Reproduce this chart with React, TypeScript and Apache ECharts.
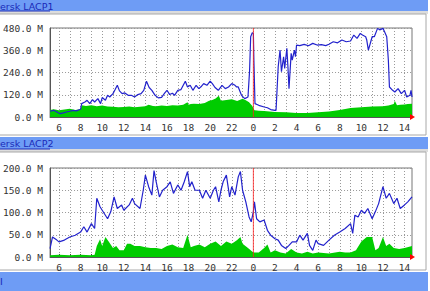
import React, { useEffect, useRef } from "react";
import * as echarts from "echarts";

const xStart = 5.17;
const xEnd = 38.69;
const hourTicks = [6, 7, 8, 9, 10, 11, 12, 13, 14, 15, 16, 17, 18, 19, 20, 21, 22, 23, 24, 25, 26, 27, 28, 29, 30, 31, 32, 33, 34, 35, 36, 37, 38];
const hourLabels = [6, 8, 10, 12, 14, 16, 18, 20, 22, 24, 26, 28, 30, 32, 34, 36, 38];
const midnight = 24;

const panel1Title = "ersk LACP1";
const panel2Title = "ersk LACP2";
const footerText = "I";

const lacp1YTicks = [0, 120, 240, 360, 480];
const lacp2YTicks = [0, 50, 100, 150, 200];

// [hour, value in M]
const lacp1In = [
  [5.17, 38], [5.5, 42], [6.0, 36], [6.5, 40], [7.0, 44], [7.5, 38], [8.0, 42], [8.1, 63], [8.5, 60], [9.0, 63],
  [9.5, 58], [10.0, 62], [10.5, 56], [11.0, 55], [11.5, 52], [12.0, 54], [12.5, 56], [13.0, 52], [13.5, 55], [14.0, 58],
  [14.3, 66], [14.7, 60], [15.0, 58], [15.5, 62], [16.0, 60], [16.5, 64], [17.0, 62], [17.5, 66], [17.9, 80], [18.0, 66],
  [18.2, 70], [18.5, 72], [19.0, 70], [19.5, 76], [19.9, 88], [20.2, 92], [20.5, 100], [20.8, 115], [21.0, 88], [21.5, 92],
  [22.0, 96], [22.5, 86], [23.0, 98], [23.3, 90], [23.6, 80], [23.9, 60], [24.1, 36], [24.5, 34], [25.0, 32], [25.5, 30],
  [26.0, 27], [27.0, 25], [28.0, 22], [29.0, 22], [30.0, 25], [31.0, 30], [32.0, 38], [33.0, 48], [34.0, 52], [35.0, 56],
  [36.0, 58], [36.5, 62], [37.0, 70], [37.1, 88], [37.3, 64], [37.6, 66], [38.0, 68], [38.3, 70], [38.69, 72],
];

const lacp1Out = [
  [5.17, 31], [5.5, 36], [5.8, 27], [6.1, 18], [6.4, 22], [6.7, 27], [7.0, 31], [7.3, 36], [7.6, 33], [8.0, 42],
  [8.1, 72], [8.4, 81], [8.6, 90], [8.85, 72], [9.1, 94], [9.3, 81], [9.6, 99], [9.85, 72], [10.0, 105], [10.3, 90],
  [10.5, 117], [10.7, 108], [11.0, 126], [11.2, 148], [11.4, 171], [11.6, 141], [11.85, 126], [12.1, 130], [12.4, 117], [12.7, 117],
  [13.0, 108], [13.3, 121], [13.6, 126], [13.85, 144], [14.1, 193], [14.35, 159], [14.6, 144], [14.9, 117], [15.2, 103], [15.5, 106],
  [15.8, 130], [16.0, 144], [16.25, 121], [16.5, 128], [16.7, 117], [17.0, 144], [17.3, 148], [17.7, 193], [17.9, 162], [18.15, 171],
  [18.4, 144], [18.7, 171], [18.95, 153], [19.2, 166], [19.4, 180], [19.7, 171], [20.0, 193], [20.2, 180], [20.45, 159], [20.75, 144],
  [21.1, 171], [21.4, 153], [21.7, 162], [22.0, 180], [22.3, 171], [22.45, 162], [22.6, 162], [22.9, 117], [23.2, 99], [23.5, 108],
  [23.65, 250], [23.75, 433], [23.9, 455], [24.0, 450], [24.05, 300], [24.15, 72], [24.5, 63], [25.0, 54], [25.3, 50], [25.6, 40],
  [26.0, 36], [26.1, 36], [26.3, 271], [26.47, 361], [26.6, 244], [26.8, 325], [26.9, 262], [27.1, 370], [27.2, 271], [27.3, 153],
  [27.5, 343], [27.6, 307], [27.8, 361], [27.9, 325], [28.0, 388], [28.3, 385], [28.7, 392], [29.1, 384], [29.5, 397], [29.9, 388],
  [30.3, 390], [30.7, 385], [31.0, 392], [31.4, 406], [31.8, 400], [32.2, 415], [32.6, 406], [33.0, 410], [33.3, 442], [33.6, 424],
  [33.9, 451], [34.1, 442], [34.4, 433], [34.5, 415], [34.65, 361], [35.0, 433], [35.2, 433], [35.5, 478], [35.7, 470], [36.0, 478],
  [36.15, 460], [36.35, 433], [36.5, 307], [36.6, 162], [36.9, 144], [37.1, 135], [37.4, 153], [37.7, 126], [38.0, 144], [38.2, 108],
  [38.5, 117], [38.6, 144], [38.69, 108],
];

const lacp2In = [
  [5.17, 4], [6, 5], [7, 4], [8, 5], [9, 4], [9.3, 5], [9.5, 25], [9.8, 40], [10, 25], [10.3, 45],
  [10.6, 35], [11, 20], [11.3, 25], [11.6, 15], [12, 15], [12.3, 30], [12.6, 30], [13, 25], [13.5, 25], [14, 22],
  [14.5, 20], [15, 20], [15.5, 18], [16, 25], [16.5, 28], [17, 22], [17.5, 20], [17.9, 50], [18.2, 22], [18.5, 25],
  [19, 28], [19.5, 22], [20, 30], [20.5, 35], [21, 25], [21.5, 35], [22, 30], [22.5, 38], [22.8, 45], [23, 30],
  [23.5, 20], [24, 10], [24.5, 10], [25, 20], [25.3, 28], [25.6, 10], [26, 15], [26.5, 10], [27, 8], [27.5, 18],
  [28, 10], [28.5, 8], [29, 12], [29.5, 8], [30, 10], [31, 8], [32, 12], [32.5, 10], [33, 10], [33.5, 15],
  [34, 35], [34.5, 45], [35, 45], [35.3, 15], [35.6, 20], [36, 45], [36.3, 25], [36.6, 30], [37, 20], [37.5, 18],
  [38, 20], [38.69, 25],
];

const lacp2Out = [
  [5.17, 19], [5.4, 45], [5.8, 38], [6, 34], [6.5, 38], [7, 45], [7.5, 49], [8, 56], [8.3, 68], [8.6, 56],
  [9, 75], [9.3, 64], [9.5, 132], [9.8, 113], [10, 105], [10.5, 86], [10.8, 102], [11.1, 135], [11.4, 109], [11.8, 117],
  [12, 105], [12.5, 117], [12.8, 132], [13, 120], [13.5, 109], [13.8, 150], [14, 184], [14.3, 158], [14.6, 139], [14.8, 194],
  [15, 169], [15.3, 135], [15.6, 150], [16, 158], [16.3, 169], [16.6, 143], [17, 162], [17.3, 150], [17.6, 169], [17.9, 192],
  [18.1, 158], [18.3, 169], [18.6, 150], [19, 150], [19.3, 132], [19.6, 150], [20, 132], [20.3, 150], [20.5, 158], [20.8, 124],
  [21, 150], [21.2, 169], [21.5, 184], [21.8, 135], [22, 158], [22.3, 139], [22.6, 180], [22.8, 192], [23, 150], [23.3, 124],
  [23.6, 90], [23.8, 79], [24, 102], [24.1, 124], [24.3, 86], [24.6, 79], [25, 83], [25.3, 60], [25.6, 49], [26, 41],
  [26.3, 38], [26.6, 26], [27, 19], [27.3, 26], [27.6, 34], [28, 34], [28.3, 49], [28.6, 38], [29, 53], [29.2, 26],
  [29.5, 15], [29.8, 38], [30, 30], [30.5, 26], [31, 38], [31.5, 49], [32, 56], [32.5, 64], [33, 75], [33.2, 53],
  [33.4, 94], [33.7, 90], [34, 105], [34.3, 98], [34.6, 109], [35, 86], [35.3, 102], [35.6, 120], [36, 158], [36.3, 132],
  [36.6, 143], [37, 120], [37.3, 132], [37.6, 109], [38, 117], [38.3, 124], [38.69, 135],
];

const monoFont = "DejaVu Sans Mono";
const green = "#00cc00";
const blue = "#2222cc";
const red = "#ff2020";

function xAxisFor(gridIndex: number) {
  return {
    type: "value",
    gridIndex,
    min: xStart,
    max: xEnd,
    axisLine: { show: true, onZero: false, lineStyle: { color: "#555", width: 1 } },
    axisTick: { show: true, customValues: hourTicks, inside: true, length: 3, lineStyle: { color: "#444" } },
    axisLabel: {
      customValues: hourLabels,
      formatter: (v: number) => String(Math.round(v) % 24),
      color: "#333",
      fontFamily: monoFont,
      fontSize: 9.5,
      margin: 5,
    },
    splitLine: { show: true, lineStyle: { color: "#999999", type: [1, 2], width: 1 } },
  };
}

function yAxisFor(gridIndex: number, ticks: number[]) {
  return {
    type: "value",
    gridIndex,
    min: ticks[0],
    max: ticks[ticks.length - 1],
    interval: ticks[1] - ticks[0],
    axisLine: { show: true, lineStyle: { color: "#555", width: 1 } },
    axisTick: { show: false },
    axisLabel: {
      formatter: (v: number) => v.toFixed(1) + " M",
      color: "#333",
      fontFamily: monoFont,
      fontSize: 9.5,
      margin: 7,
    },
    splitLine: { show: true, lineStyle: { color: "#999999", type: [1, 2], width: 1 } },
  };
}

function areaSeries(idx: number, data: number[][]) {
  return {
    type: "line",
    xAxisIndex: idx,
    yAxisIndex: idx,
    data,
    showSymbol: false,
    symbol: "none",
    lineStyle: { width: 0, color: green },
    areaStyle: { color: green, opacity: 1 },
    z: 2,
  };
}

function lineSeries(idx: number, data: number[][]) {
  return {
    type: "line",
    xAxisIndex: idx,
    yAxisIndex: idx,
    data,
    showSymbol: false,
    symbol: "none",
    lineStyle: { width: 1.2, color: blue },
    z: 3,
  };
}

function midnightSeries(idx: number, ticks: number[]) {
  return {
    type: "line",
    xAxisIndex: idx,
    yAxisIndex: idx,
    data: [
      [midnight, ticks[0]],
      [midnight, ticks[ticks.length - 1]],
    ],
    showSymbol: false,
    symbol: "none",
    lineStyle: { width: 1, color: red, opacity: 0.8 },
    itemStyle: { color: red },
    z: 4,
  };
}

function titleBar(y: number, h: number) {
  return { type: "rect", shape: { x: 0, y, width: 428, height: h }, style: { fill: "#6e9cf5" }, z: -10, silent: true };
}

function grayBand(y: number, h: number) {
  return { type: "rect", shape: { x: 0, y, width: 428, height: h }, style: { fill: "#dcdcdc" }, z: -10, silent: true };
}

function panel(y: number, h: number) {
  return {
    type: "rect",
    shape: { x: -2, y, width: 428, height: h },
    style: { fill: "#ffffff", stroke: "#a8a8a8", lineWidth: 1 },
    z: -9,
    silent: true,
  };
}

function titleText(text: string, y: number) {
  return {
    type: "text",
    x: 0,
    y,
    style: { text, fill: "#1a2ab8", font: "9.5px 'DejaVu Sans'", textVerticalAlign: "top" },
    z: 10,
    silent: true,
  };
}

function arrow(x: number, y: number) {
  return {
    type: "polygon",
    shape: { points: [[x - 2, y - 3], [x + 3, y], [x - 2, y + 3]] },
    style: { fill: "#ff0000" },
    z: 20,
    silent: true,
  };
}

export default function App() {
  const ref = useRef<HTMLDivElement>(null);
  useEffect(() => {
    const chart = echarts.init(ref.current!, null, { renderer: "svg" });
    chart.setOption({
      animation: false,
      backgroundColor: "#ffffff",
      grid: [
        { left: 50, right: 18, top: 28, bottom: 174, show: true, borderColor: "#777", borderWidth: 1, backgroundColor: "#ffffff" },
        { left: 50, right: 18, top: 168, bottom: 34, show: true, borderColor: "#777", borderWidth: 1, backgroundColor: "#ffffff" },
      ],
      xAxis: [xAxisFor(0), xAxisFor(1)],
      yAxis: [yAxisFor(0, lacp1YTicks), yAxisFor(1, lacp2YTicks)],
      series: [
        areaSeries(0, lacp1In),
        lineSeries(0, lacp1Out),
        midnightSeries(0, lacp1YTicks),
        areaSeries(1, lacp2In),
        lineSeries(1, lacp2Out),
        midnightSeries(1, lacp2YTicks),
      ],
      graphic: [
        titleBar(0, 11),
        grayBand(11, 3),
        panel(14, 121),
        titleBar(137, 12),
        grayBand(149, 3),
        panel(152, 118),
        titleBar(272, 19),
        { type: "line", shape: { x1: 0, y1: 11, x2: 50, y2: 11 }, style: { stroke: "#1a2ab8", lineWidth: 1 }, z: 10, silent: true },
        { type: "line", shape: { x1: 0, y1: 149, x2: 50, y2: 149 }, style: { stroke: "#1a2ab8", lineWidth: 1 }, z: 10, silent: true },
        titleText(panel1Title, 1),
        titleText(panel2Title, 138),
        titleText(footerText, 276),
        arrow(412, 117),
        arrow(412, 257),
      ],
    });
    return () => chart.dispose();
  }, []);
  return <div ref={ref} style={{ position: "absolute", left: 0, top: 0, width: 430, height: 291 }} />;
}
